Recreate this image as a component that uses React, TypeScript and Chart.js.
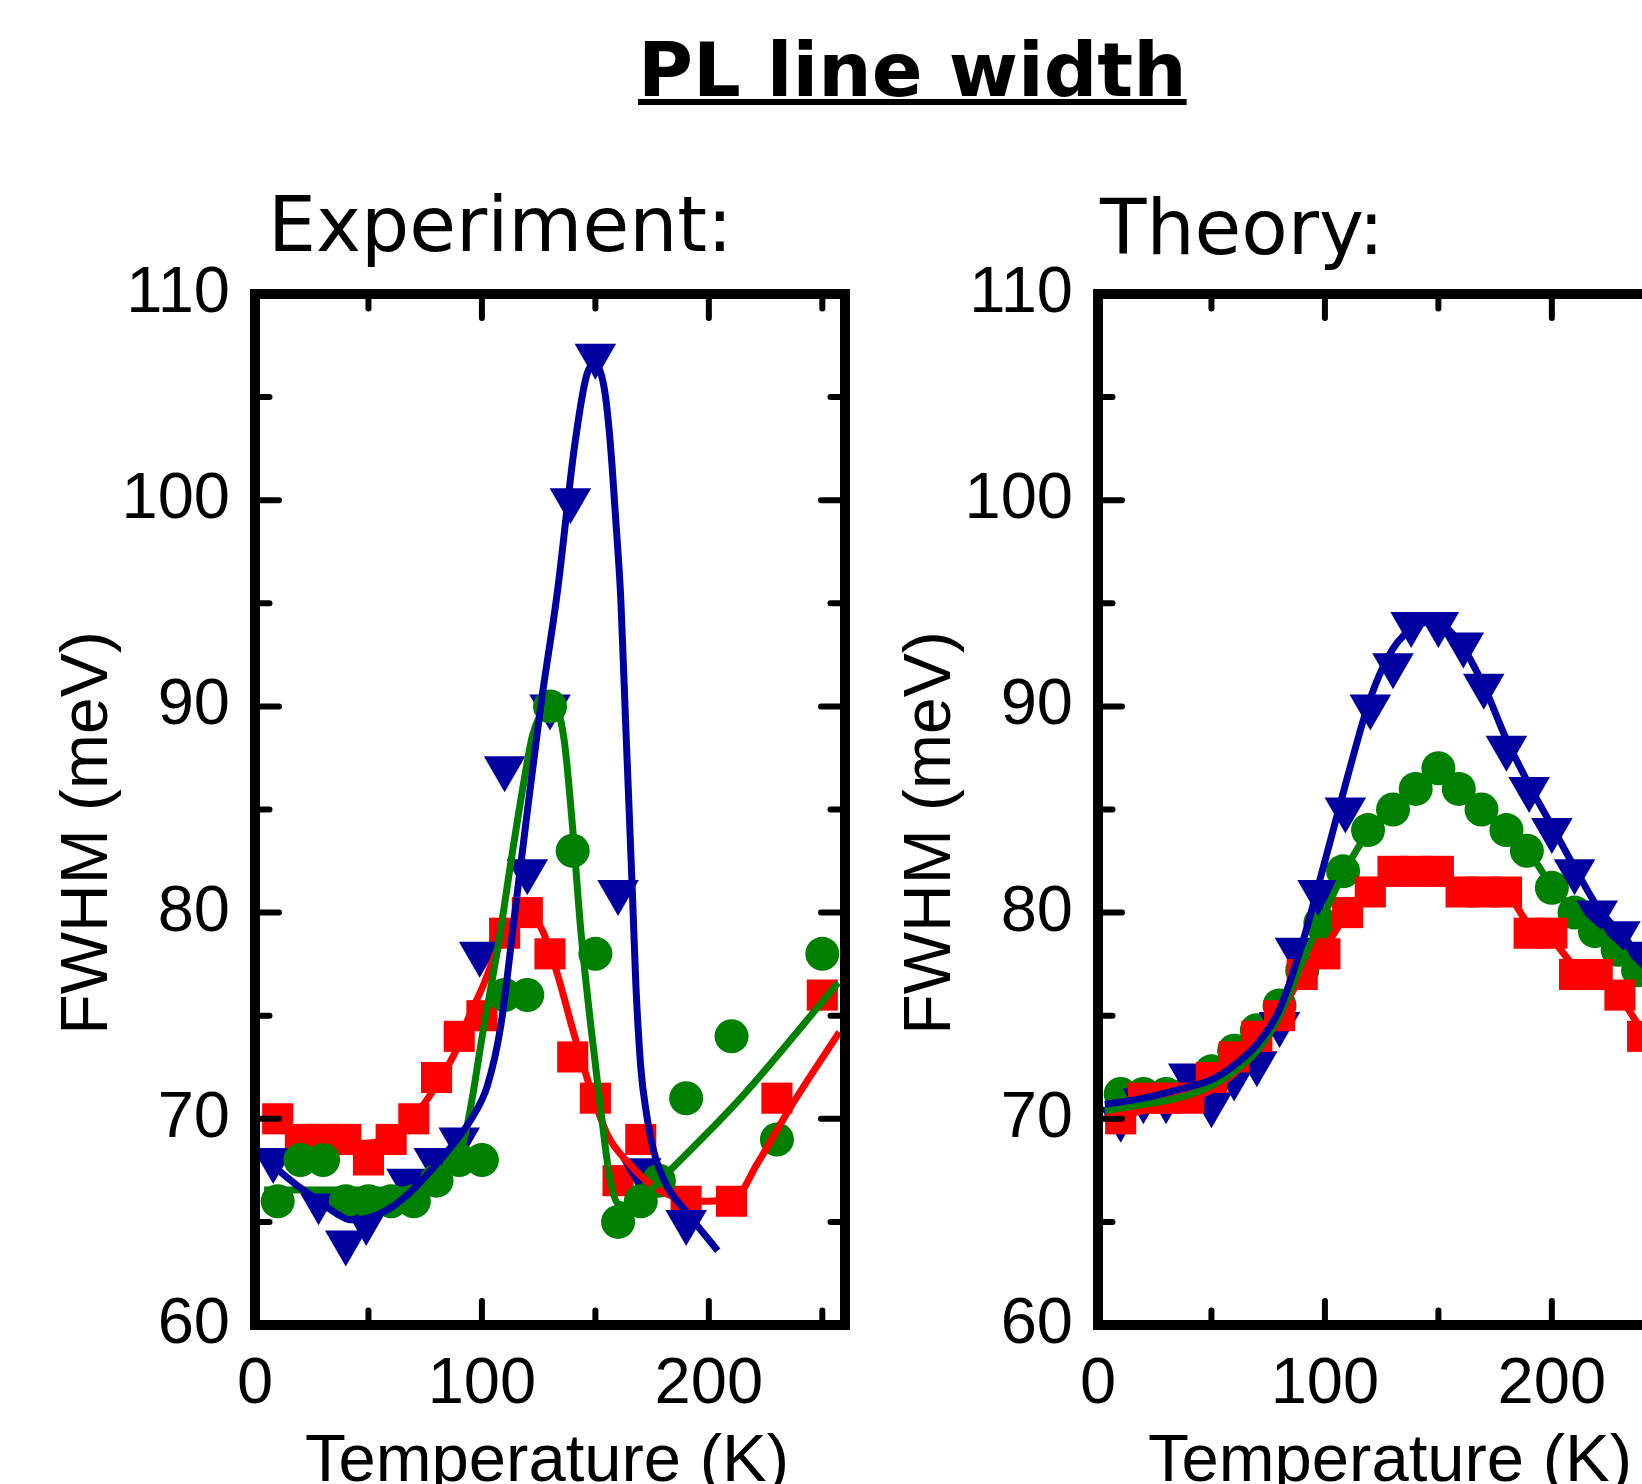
import { useEffect, useRef } from 'react';
import { Chart, registerables } from 'chart.js';

Chart.register(...registerables);

// ---- axis ticks ----
const xLabelTicks = [0, 100, 200];
const xMinorTicks = [50, 150, 250];
const yLabelTicks = [60, 70, 80, 90, 100, 110];
const yMinorTicks = [65, 75, 85, 95, 105];

// ---- Experiment: markers ----
const expRedT = [10, 20, 30, 40, 50, 60, 70, 80, 90, 100, 110, 120, 130, 140, 150, 160, 170, 190, 210, 230, 250];
const expRedY = [70, 69, 69, 69, 68, 69, 70, 72, 74, 75, 79, 80, 78, 73, 71, 67, 69, 66, 66, 71, 76];
const expGreenT = [10, 20, 30, 40, 50, 60, 70, 80, 90, 100, 110, 120, 130, 140, 150, 160, 170, 178, 190, 210, 230, 250];
const expGreenY = [66, 68, 68, 66, 66, 66, 66, 67, 68, 68, 76, 76, 90, 83, 78, 65, 66, 67, 71, 74, 69, 78];
const expBlueT = [8, 28, 40, 49, 67, 79, 90, 99, 110, 120, 130, 139, 150, 160, 170, 190];
const expBlueY = [68, 66, 64, 65, 67, 68, 69, 78, 87, 82, 90, 100, 107, 81, 67.5, 65];

// ---- Experiment: fit curves ----
const expBlueFitT = [5, 17, 27, 36, 42, 50, 60, 69, 80, 89, 96.5, 102.4, 108.3, 114.2, 120, 125.9, 133.3, 140.8, 146, 149.5, 153.8, 156.4, 159, 161.2, 163.4, 164.9, 166.4, 167.8, 170, 172.3, 175.9, 181.8, 190, 203.9];
const expBlueFitY = [68, 66.9, 66.1, 65.4, 65.1, 65.2, 65.7, 66.5, 67.8, 69.0, 70.2, 71.6, 74.5, 79.7, 84.9, 90.0, 95.6, 102.6, 106, 106.6, 105.5, 103, 99, 95.2, 89.0, 84.9, 80.7, 76.6, 72.5, 70.4, 68.35, 66.7, 65.5, 63.6];
const expRedFitT = [5, 15, 25, 35, 45, 55, 65, 75, 82, 88.5, 93.7, 100.7, 106, 111.2, 116, 121.6, 126.8, 133.3, 140.6, 148, 155.4, 164.2, 175.9, 187.7, 195, 211, 221.5, 236.2, 257.5];
const expRedFitY = [69.9, 69.4, 69.1, 68.9, 68.8, 68.9, 69.5, 70.8, 72, 73.3, 74.8, 76.5, 78.0, 79.1, 79.6, 79.8, 79.1, 77.0, 74.1, 71.4, 69.2, 67.9, 66.7, 66.1, 66.0, 66.1, 67.85, 70.6, 74.2];
const expGreenFitT = [4, 20, 40, 60, 72, 80.4, 86, 92.1, 100.9, 107.6, 112.7, 117.8, 122.3, 125.9, 131, 136.2, 139.9, 143.6, 148, 152.4, 156.1, 159.8, 164, 170, 182, 214, 257];
const expGreenFitY = [66.55, 66.55, 66.55, 66.55, 66.6, 67.2, 68.0, 69.0, 74.5, 78.7, 82.4, 85.9, 88.6, 89.6, 90.2, 88.4, 84.2, 79.1, 74.5, 70.4, 67.3, 65.9, 65.8, 66.1, 67.4, 71.0, 76.6];

// ---- Theory: markers ----
const thRedT = [10, 20, 30, 40, 50, 60, 70, 80, 90, 100, 110, 120, 130, 140, 150, 160, 170, 180, 190, 200, 210, 220, 230, 240];
const thRedY = [70, 71, 71, 71, 72, 73, 74, 75, 77, 78, 80, 81, 82, 82, 82, 81, 81, 81, 79, 79, 77, 77, 76, 74];
const thGreenT = [10, 20, 30, 40, 50, 60, 70, 80, 90, 98, 108, 119, 130, 140, 150, 159, 169, 180, 189, 200, 210, 219, 229, 238];
const thGreenY = [71.2, 71.2, 71.2, 71.3, 72.3, 73.3, 74.3, 75.5, 77.2, 79.5, 82, 84, 85, 86, 87, 86, 85, 84, 83, 81.2, 80, 79.1, 78.2, 77.2];
const thBlueT = [10, 20, 30, 40, 50, 60, 70, 80, 87, 97, 109, 120, 130, 138, 150, 161, 170, 180, 190, 200, 210, 220, 230, 240];
const thBlueY = [70, 70.9, 70.9, 72.1, 70.7, 72, 72.7, 74.6, 78.2, 81, 85, 90, 92, 94, 94, 93, 91, 88, 86, 84, 82, 80, 79, 78];

// ---- Theory: curves ----
const thCurveT = [3, 20, 35, 50, 60, 70, 80, 90, 100, 110, 120, 130, 140, 148, 160, 170, 180, 190, 200, 210, 220, 230, 240];
const thBlueCurveY = [70.7, 71.0, 71.4, 71.9, 72.6, 73.6, 75.3, 78.5, 82.5, 86.6, 90.4, 92.8, 93.9, 94.1, 93.0, 91.0, 88.4, 86.2, 84.2, 82.2, 80.3, 79.0, 77.7];
const thGreenCurveY = [70.4, 70.7, 71.0, 71.6, 72.3, 73.3, 75.0, 77.6, 80.0, 82.3, 84.0, 85.2, 86.2, 86.9, 86.2, 85.1, 84.0, 82.9, 81.3, 80.1, 79.1, 78.1, 77.0];
const thRedCurveY = [70.0, 70.4, 70.8, 71.4, 72.2, 73.3, 75.0, 77.0, 78.3, 80.0, 81.1, 81.9, 82.1, 82.0, 81.4, 81.1, 80.9, 79.4, 78.7, 77.4, 76.8, 75.9, 74.2];

const BLUE = '#0000a0';
const GREEN = '#008000';
const RED = '#ff0000';
const LABEL_FONT = 'Liberation Sans';

const pts = (xs: number[], ys: number[]) => xs.map((x, i) => ({ x, y: ys[i] }));

const lineDs = (data: any[], color: string) => ({
  data,
  showLine: true,
  borderColor: color,
  backgroundColor: color,
  borderWidth: 7,
  pointRadius: 0,
  pointHoverRadius: 0,
  cubicInterpolationMode: 'monotone',
  fill: false,
});

const markDs = (data: any[], color: string, style: string, r: number, rot = 0) => ({
  data,
  showLine: false,
  pointStyle: style,
  pointRadius: r,
  pointHoverRadius: r,
  pointRotation: rot,
  backgroundColor: color,
  pointBackgroundColor: color,
  borderColor: color,
  pointBorderWidth: 0,
  borderWidth: 0,
});

const decorPlugin = {
  id: 'decor',
  afterDraw(chart: any, _args: any, opts: any) {
    const { ctx, chartArea: a } = chart;
    const xs = chart.scales.x;
    const ys = chart.scales.y;
    ctx.save();
    ctx.strokeStyle = '#000';
    ctx.lineCap = 'round';
    ctx.lineWidth = 6;
    const seg = (x1: number, y1: number, x2: number, y2: number) => {
      ctx.beginPath();
      ctx.moveTo(x1, y1);
      ctx.lineTo(x2, y2);
      ctx.stroke();
    };
    const xTick = (v: number, len: number) => {
      const p = xs.getPixelForValue(v);
      seg(p, a.bottom, p, a.bottom - len);
      seg(p, a.top, p, a.top + len);
    };
    const yTick = (v: number, len: number) => {
      const p = ys.getPixelForValue(v);
      seg(a.left, p, a.left + len, p);
      seg(a.right, p, a.right - len, p);
    };
    xLabelTicks.forEach((v) => xTick(v, 24));
    xMinorTicks.forEach((v) => xTick(v, 14.5));
    yLabelTicks.forEach((v) => yTick(v, 24));
    yMinorTicks.forEach((v) => yTick(v, 14.5));
    ctx.lineCap = 'butt';
    ctx.lineJoin = 'miter';
    ctx.lineWidth = 10;
    ctx.strokeRect(a.left, a.top, a.right - a.left, a.bottom - a.top);

    ctx.fillStyle = '#000';
    ctx.textAlign = 'center';
    ctx.textBaseline = 'alphabetic';
    ctx.font = `67px "${LABEL_FONT}"`;
    ctx.fillText(opts.xTitle, (a.left + a.right) / 2 - 3, 1481);
    ctx.font = `66px "${LABEL_FONT}"`;
    ctx.translate(a.left - 148, 833);
    ctx.rotate(-Math.PI / 2);
    ctx.fillText(opts.yTitle, 0, 0);
    ctx.restore();
  },
};

function makeConfig(kind: 'exp' | 'th'): any {
  const datasets =
    kind === 'exp'
      ? [
          lineDs(pts(expBlueFitT, expBlueFitY), BLUE),
          lineDs(pts(expGreenFitT, expGreenFitY), GREEN),
          lineDs(pts(expRedFitT, expRedFitY), RED),
          markDs(pts(expGreenT, expGreenY), GREEN, 'circle', 17),
          markDs(pts(expBlueT, expBlueY), BLUE, 'triangle', 24, 180),
          markDs(pts(expRedT, expRedY), RED, 'rect', 22),
        ]
      : [
          lineDs(pts(thCurveT, thBlueCurveY), BLUE),
          lineDs(pts(thCurveT, thGreenCurveY), GREEN),
          lineDs(pts(thCurveT, thRedCurveY), RED),
          markDs(pts(thRedT, thRedY), RED, 'rect', 22),
          markDs(pts(thBlueT, thBlueY), BLUE, 'triangle', 24, 180),
          markDs(pts(thGreenT, thGreenY), GREEN, 'circle', 17),
        ];
  const tickFont = { family: LABEL_FONT, size: 65 };
  return {
    type: 'scatter',
    data: { datasets },
    options: {
      responsive: false,
      animation: false,
      devicePixelRatio: 1,
      events: [],
      layout: { padding: { left: 0, right: 55, top: 294, bottom: 0 } },
      plugins: {
        legend: { display: false },
        tooltip: { enabled: false },
        title: { display: false },
        decor: { xTitle: 'Temperature (K)', yTitle: 'FWHM (meV)' },
      },
      scales: {
        x: {
          type: 'linear',
          min: 0,
          max: 260,
          grid: { display: false, drawTicks: false },
          border: { display: false },
          afterBuildTicks: (s: any) => {
            s.ticks = xLabelTicks.map((v) => ({ value: v }));
          },
          afterFit: (s: any) => {
            s.height = 159;
          },
          ticks: { font: tickFont, color: '#000', padding: 21, maxRotation: 0, autoSkip: false },
        },
        y: {
          type: 'linear',
          min: 60,
          max: 110,
          grid: { display: false, drawTicks: false },
          border: { display: false },
          afterBuildTicks: (s: any) => {
            s.ticks = yLabelTicks.map((v) => ({ value: v }));
          },
          afterFit: (s: any) => {
            s.width = 255;
          },
          ticks: { font: tickFont, color: '#000', padding: 25, autoSkip: false },
        },
      },
    },
    plugins: [decorPlugin],
  };
}

function Panel({ kind, left }: { kind: 'exp' | 'th'; left: number }) {
  const ref = useRef<HTMLCanvasElement>(null);
  useEffect(() => {
    const chart = new Chart(ref.current as HTMLCanvasElement, makeConfig(kind));
    return () => chart.destroy();
  }, [kind]);
  return (
    <canvas
      ref={ref}
      width={900}
      height={1484}
      style={{ position: 'absolute', left, top: 0, width: 900, height: 1484 }}
    />
  );
}

const subTitleStyle: any = {
  position: 'absolute',
  margin: 0,
  fontFamily: '"DejaVu Sans"',
  fontSize: 76,
  lineHeight: '76px',
  fontWeight: 'normal',
  color: '#000',
  whiteSpace: 'nowrap',
};

export default function App() {
  return (
    <div
      style={{
        position: 'absolute',
        left: 0,
        top: 0,
        width: 1642,
        height: 1484,
        overflow: 'hidden',
        background: '#fff',
      }}
    >
      <div
        style={{
          position: 'absolute',
          left: 638,
          top: 33,
          margin: 0,
          fontFamily: '"DejaVu Sans"',
          fontWeight: 'bold',
          fontSize: 75,
          lineHeight: '75px',
          color: '#000',
          whiteSpace: 'nowrap',
          textDecoration: 'underline',
          textDecorationThickness: '6px',
          textUnderlineOffset: '3px',
        }}
      >
        PL line width
      </div>
      <div style={{ ...subTitleStyle, left: 268, top: 187 }}>Experiment:</div>
      <div style={{ ...subTitleStyle, left: 1100, top: 190 }}>Theory:</div>
      <Panel kind="exp" left={0} />
      <Panel kind="th" left={843} />
    </div>
  );
}
